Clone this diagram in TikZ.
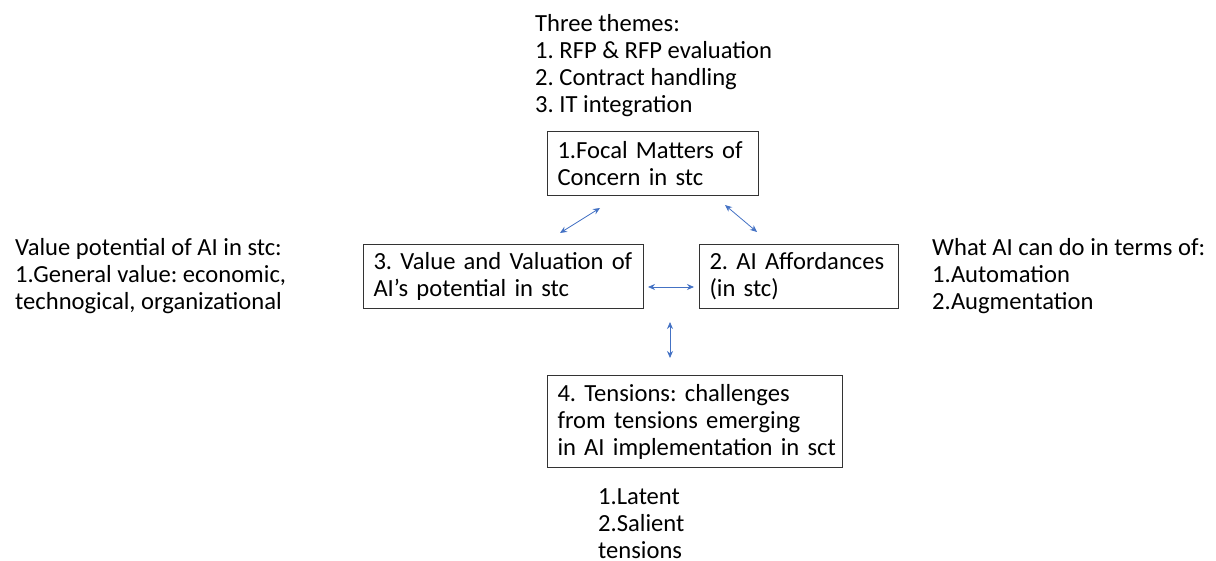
\documentclass[tikz,border=0pt]{standalone}
\usepackage{fontspec}
\setmainfont{Carlito}
\usetikzlibrary{arrows.meta}
\definecolor{arrblue}{HTML}{4472C4}
\hyphenpenalty=10000\relax
\hbadness=10000\relax
\hfuzz=50pt\relax
\begin{document}
\frenchspacing
\begin{tikzpicture}[x=1pt,y=-1pt,
  every node/.style={font=\fontsize{24.6}{27}\selectfont\frenchspacing},
  box/.style={draw=black!80, line width=1pt, anchor=north west, align=left, inner xsep=10pt, inner ysep=0pt},
  lbl/.style={anchor=north west, align=left, inner sep=0pt},
  conn/.style={draw=arrblue, line width=0.8pt, {Stealth[length=7pt,width=6pt]}-{Stealth[length=7pt,width=6pt]}}]
\useasboundingbox (0,0) rectangle (1216,561);
\node[box, minimum width=211pt, minimum height=64pt, text width=191pt] (b1) at (547,131) {1.Focal Matters of\\Concern in stc};
\node[box, minimum width=280pt, minimum height=64pt, text width=260pt] (b3) at (363,244) {3. Value and Valuation of\\AI’s potential in stc};
\node[box, minimum width=199pt, minimum height=64pt, text width=179pt] (b2) at (699,244) {2. AI Affordances\\(in stc)};
\node[box, minimum width=295pt, minimum height=92pt, text width=275pt] (b4) at (547,375) {4. Tensions: challenges\\from tensions emerging\\\mbox{in AI implementation in sct}};
\node[lbl] (t1) at (535,14) {Three themes:\\1. RFP \& RFP evaluation\\2. Contract handling\\3. IT integration};
\node[lbl] (t2) at (15,238) {Value potential of AI in stc:\\1.General value: economic,\\technogical, organizational};
\node[lbl] (t3) at (932,238) {What AI can do in terms of:\\1.Automation\\2.Augmentation};
\node[lbl] (t4) at (598,488) {1.Latent\\2.Salient\\tensions};
\coordinate (a1s) at (560,233); \coordinate (a1e) at (600,208);
\coordinate (a2s) at (725,205); \coordinate (a2e) at (757,232);
\coordinate (a3s) at (648,287); \coordinate (a3e) at (694,287);
\coordinate (a4s) at (670,322); \coordinate (a4e) at (670,358);
\draw[conn] (a1s) -- (a1e);
\draw[conn] (a2s) -- (a2e);
\draw[conn] (a3s) -- (a3e);
\draw[conn] (a4s) -- (a4e);
\end{tikzpicture}
\end{document}
